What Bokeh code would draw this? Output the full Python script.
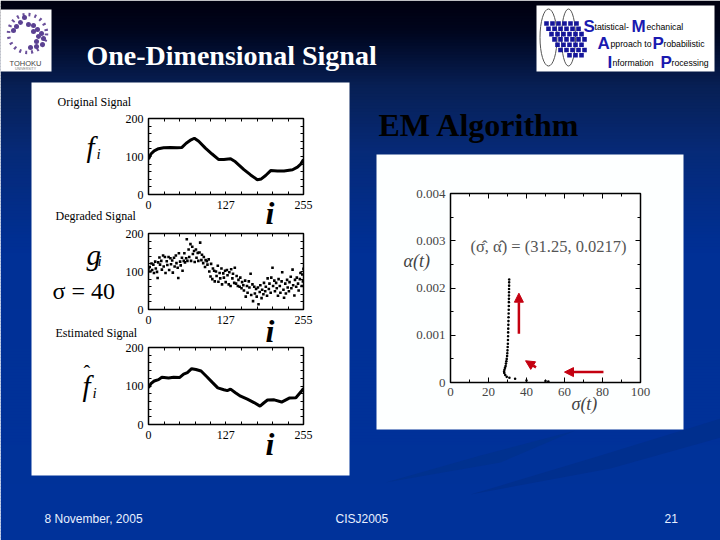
import numpy as np
from bokeh.plotting import figure
from bokeh.core.properties import value
from bokeh.models import LinearAxis, FixedTicker, Arrow, NormalHead
from bokeh.embed import file_html
from bokeh.resources import INLINE

# ---- data ----
f_index = [0,3.9,9.4,16.5,24.8,35.8,46.8,55,62,70,75.4,82.6,93.6,104.6,115.6,124,135,143,157,168,179,185.6,192.7,201,212,223,237,245,250.5,255]
f_value = [93,106.5,115,120.5,123,124,123,124,135,144,148,140,122,106.5,92,92,94,86,65.5,51.5,39,41,50,63,62,62,65,72,80,92]

g_index = [0,2,3,5,6,8,9,11,12,14,
           15,16,18,19,21,22,24,25,27,28,
           30,31,33,34,36,37,39,40,42,43,
           45,46,48,49,50,52,53,55,56,58,
           59,60,62,63,64,66,67,69,70,72,
           73,75,76,78,79,81,82,84,85,87,
           88,90,91,93,94,96,97,99,100,102,
           103,105,106,108,109,111,112,114,115,117,
           118,120,121,123,124,126,127,129,130,132,
           133,135,136,138,139,141,142,144,145,147,
           148,150,151,153,154,156,157,159,160,162,
           163,165,166,168,169,171,172,174,175,177,
           178,180,181,183,184,186,187,189,190,192,
           193,195,196,198,199,201,202,204,205,207,
           208,210,211,213,214,216,217,219,220,222,
           223,225,226,228,229,231,232,234,235,237,
           238,240,241,243,244,246,247,249,250,252,
           253,254,255]
g_value = [108,112,100,121,104,118,96,126,108,99,
           83,124,137,118,128,105,142,113,138,96,
           127,117,138,104,135,119,129,97,136,113,
           142,122,110,83,148,126,116,136,102,128,
           148,124,135,185,128,158,138,172,128,165,
           146,154,125,158,136,149,128,150,176,130,
           144,122,138,112,130,127,118,132,100,87,
           120,80,108,102,74,100,88,115,73,96,
           82,108,66,95,84,102,72,104,90,66,
           98,62,106,82,94,70,110,68,88,62,
           78,60,84,56,72,64,50,76,34,62,
           44,74,58,94,38,66,22,60,42,54,
           34,58,14,46,64,30,52,40,70,48,
           60,36,82,54,68,44,84,110,62,76,
           48,70,56,36,80,62,44,74,98,52,
           31,68,42,78,58,48,72,86,56,105,
           64,37,78,60,84,68,50,80,96,62,
           92,74,107]

est_index = [0,3.9,9.4,16.5,22,33,41.3,51,57.8,64,71,78,86.5,96.4,104.6,114,124,129.6,135,143,151.5,162.6,173.6,183.5,190,195.8,206.8,219,231.5,242.5,250.8,255]
est_value = [95.6,106,113,116.5,122.6,121,122.6,122,131,135,145,143,139,123.5,110,95,90.4,88,92,82.6,73.6,65.7,57,47.8,56.5,63.5,64,58.3,68.7,69.6,85,94]

sigma_t = [51.5,50,40,34,31,29.6,28.8,28.3,28.2,28.4,28.7,29,29.2,29.4,29.6,29.8,29.9,30,30.1,30.2,30.25,30.3,30.35,30.4,30.45,30.5,30.55,30.6,30.65,30.7,30.72,30.75,30.78,30.8,30.82,30.85,30.87,30.9]
alpha_t = [0.00002,0.00003,0.00004,0.00008,0.0001,0.00012,0.00016,0.0002,0.00023,0.00027,0.00031,0.00035,0.0004,0.00045,0.0005,0.00056,0.00062,0.00068,0.00075,0.00082,0.0009,0.00098,0.00106,0.00114,0.00122,0.0013,0.00138,0.00146,0.00154,0.00162,0.0017,0.00177,0.00184,0.00191,0.00198,0.00205,0.00212,0.00218]

arrow_x_start = [36, 45, 80.5]
arrow_y_start = [0.00103, 0.00032, 0.00022]
arrow_x_end = [36, 39.5, 60]
arrow_y_end = [0.00189, 0.00046, 0.00022]

i_ticks = [0, 127, 255]
i_minor = [25.5, 51, 76.5, 102, 153, 178.5, 204, 229.5]
v_ticks = [0, 100, 200]
v_minor = [20, 40, 60, 80, 120, 140, 160, 180]
sigma_ticks = [0, 20, 40, 60, 80, 100]
sigma_minor = [10, 30, 50, 70, 90]
alpha_ticks = [0, 0.001, 0.002, 0.003, 0.004]
alpha_minor = [0.0005, 0.0015, 0.0025, 0.0035]
alpha_labels = ["0", "0.001", "0.002", "0.003", "0.004"]

SERIF = "Liberation Serif"
SANS = "Liberation Sans"

def place(fig, x, y, w, h):
    fig.styles = {"position": "absolute", "left": f"{x}px", "top": f"{y}px",
                  "width": f"{w}px", "height": f"{h}px"}

# ---- slide background ----
bg = figure(width=720, height=540, x_range=(0, 720), y_range=(540, 0),
            output_backend="svg", toolbar_location=None, sizing_mode="fixed",
            min_border_left=0, min_border_right=0, min_border_top=0, min_border_bottom=0,
            x_axis_location=None, y_axis_location=None)
bg.grid.visible = False
bg.outline_line_color = None
place(bg, 0, 0, 720, 540)

stops_y = [0, 30, 85, 150, 250, 540]
stops_r = [0, 0, 8, 6, 0, 0]
stops_g = [0, 6, 32, 42, 48, 51]
stops_b = [16, 30, 85, 120, 150, 155]
band_top = np.arange(0, 540, 3)
band_colors = ["#%02x%02x%02x" % (int(r), int(g), int(b)) for r, g, b in
               zip(np.interp(band_top, stops_y, stops_r),
                   np.interp(band_top, stops_y, stops_g),
                   np.interp(band_top, stops_y, stops_b))]
bg.quad(left=0, right=720, top=band_top, bottom=band_top + 3.5, fill_color=band_colors, line_color=None)

# faint swooshes lower right
bg.patch([470, 600, 720, 720, 610], [494, 455, 418, 437, 468], color="#002f8e", line_color=None)
bg.patch([385, 480, 575, 500], [482, 455, 430, 462], color="#00318f", line_color=None)

# white panels
bg.quad(left=31, right=349, top=82, bottom=475, color="white", line_color=None)
bg.quad(left=376, right=683, top=154, bottom=429, color="#fdffff", line_color=None)

def txt(x, y, s, size, color="black", font=SERIF, style="normal", align="left"):
    bg.text([x], [y], [s], text_font=value(font), text_font_size=f"{size}px", text_color=color,
            text_font_style=style, text_align=align, text_baseline="middle")

# titles
txt(86, 55, "One-Dimensional Signal", 28, "white", style="bold")
txt(378, 124, "EM Algorithm", 32, "black", style="bold")
txt(44, 518, "8 November, 2005", 12, "#e8f0ff", SANS)
txt(335, 518, "CISJ2005", 12, "#e8f0ff", SANS)
txt(664, 518, "21", 12, "#e8f0ff", SANS)

# panel labels
txt(57, 101, "Original Signal", 12)
txt(55, 215, "Degraded Signal", 12)
txt(55, 332, "Estimated Signal", 12)
txt(86, 146, "f", 29, style="italic")
txt(96, 153, "i", 15, style="italic")
txt(86, 254, "g", 29, style="italic")
txt(97, 260, "i", 15, style="italic")
txt(52, 290, "σ = 40", 24)
txt(82, 385, "f", 29, style="italic")
txt(92, 392, "i", 15, style="italic")
txt(83, 372, "ˆ", 20)
for yy in (212, 330, 443):
    txt(265, yy, "i", 32, style="bold italic")

# Tohoku logo
bg.quad(left=0, right=51, top=9, bottom=71, color="white", line_color=None)
bg.ellipse([27], [33], width=38, height=38, fill_color=None, line_color="#6a4f9a", line_width=3.5, line_dash="dotted")
logo_x = [28, 33, 37, 41, 43, 38, 42, 33, 36, 13, 16, 20, 24, 30, 36]
logo_y = [24, 25, 29, 33, 38, 36, 44, 31, 41, 30, 26, 22, 17, 47, 46]
bg.scatter(logo_x, logo_y, size=5, color="#5b4192", line_color=None)
txt(25, 63, "TOHOKU", 7.5, "#444444", SANS, align="center")
txt(25, 68.5, "UNIVERSITY", 3.5, "#777777", SANS, align="center")

# SMAPIP logo
bg.quad(left=536, right=714, top=5, bottom=71, color="white", line_color=None)
bg.ellipse([548, 568], [37, 37], width=[17, 14], height=[57, 57], fill_color=None, line_color="#555555", line_width=1)
block_x, block_y = [], []
for r, (x0, n) in enumerate(zip([546, 548, 551, 554, 557, 560, 569], [6, 6, 6, 6, 5, 5, 3])):
    for c in range(n):
        block_x.append(x0 + c * 6)
        block_y.append(23 + r * 5.3)
bg.scatter(block_x, block_y, size=4.6, marker="square", color="#16169a", line_color=None)
for x, y, s, big in [(583, 26, "S", True), (594, 26, "tatistical-", False), (631, 26, "M", True), (646, 26, "echanical", False),
                     (597, 43, "A", True), (610, 43, "pproach to", False), (652, 43, "P", True), (663, 43, "robabilistic", False),
                     (607, 62, "I", True), (612, 62, "nformation", False), (660, 62, "P", True), (671, 62, "rocessing", False)]:
    if big:
        txt(x, y, s, 17, "#1a1ab0", SANS, "bold")
    else:
        txt(x, y, s, 8.7, "#000000", SANS)

# right plot loose labels
txt(403, 260, "α(t)", 18, "#444444", style="italic")
txt(571, 403, "σ(t)", 18, "#444444", style="italic")

# ---- chart panels ----
def make_plot(fx, fy, fw, fh, xr, yr, xt, xm, yt, ym, y_labels=None, size=12, standoff=6,
              tick=3, minor=3, color="black", width=1.5):
    L, R, T, B = 50, 20, 8, 26
    p = figure(width=L + fw + R, height=T + fh + B, x_range=xr, y_range=yr,
               output_backend="svg", toolbar_location=None, sizing_mode="fixed",
               min_border_left=L, min_border_right=R, min_border_top=T, min_border_bottom=B,
               x_axis_location=None, y_axis_location=None)
    p.border_fill_alpha = 0
    p.background_fill_color = "white"
    p.grid.visible = False
    p.outline_line_color = "black"
    p.outline_line_width = width
    place(p, fx - L, fy - T, L + fw + R, T + fh + B)
    for loc, ticks, mins in [("below", xt, xm), ("left", yt, ym), ("above", xt, xm), ("right", yt, ym)]:
        ax = LinearAxis(ticker=FixedTicker(ticks=ticks, minor_ticks=mins))
        ax.axis_line_color = None
        ax.major_tick_in = tick
        ax.major_tick_out = 0
        ax.minor_tick_in = minor
        ax.minor_tick_out = 0
        ax.major_tick_line_color = "black"
        ax.minor_tick_line_color = "black"
        if loc in ("below", "left"):
            ax.major_label_text_font = SERIF
            ax.major_label_text_font_size = f"{size}px"
            ax.major_label_text_color = color
            ax.major_label_standoff = standoff if loc == "below" else 5
            if loc == "left" and y_labels:
                ax.major_label_overrides = dict(zip(yt, y_labels))
        else:
            ax.major_label_overrides = {t: "" for t in ticks}
            ax.major_label_standoff = 0
        p.add_layout(ax, loc)
    return p

p1 = make_plot(148, 118, 155, 76, (0, 255), (0, 200), i_ticks, i_minor, v_ticks, v_minor)
p1.line(f_index, f_value, line_color="black", line_width=3)

p2 = make_plot(148, 233, 155, 76, (0, 255), (0, 200), i_ticks, i_minor, v_ticks, v_minor)
p2.scatter(g_index, g_value, size=2.6, marker="square", color="black", line_color=None)

p3 = make_plot(148, 347, 155, 77, (0, 255), (0, 200), i_ticks, i_minor, v_ticks, v_minor)
p3.line(est_index, est_value, line_color="black", line_width=3)

p4 = make_plot(450, 193, 190, 189, (0, 100), (0, 0.004), sigma_ticks, sigma_minor, alpha_ticks, alpha_minor,
               y_labels=alpha_labels, size=13, standoff=5, tick=5, minor=3, color="#444444")
p4.scatter(sigma_t, alpha_t, size=2.6, color="black", line_color=None)
p4.text([10.5], [0.00288], ["(σ̂, α̂) = (31.25, 0.0217)"], text_font=value(SERIF), text_font_size="16.5px",
        text_color="#555555", text_baseline="middle")
for xs, ys, xe, ye in zip(arrow_x_start, arrow_y_start, arrow_x_end, arrow_y_end):
    p4.add_layout(Arrow(end=NormalHead(size=9, fill_color="#c40010", line_color="#c40010"),
                        x_start=xs, y_start=ys, x_end=xe, y_end=ye,
                        line_color="#c40010", line_width=2.5))

open("out.html", "w").write(file_html([bg, p1, p2, p3, p4], INLINE))
